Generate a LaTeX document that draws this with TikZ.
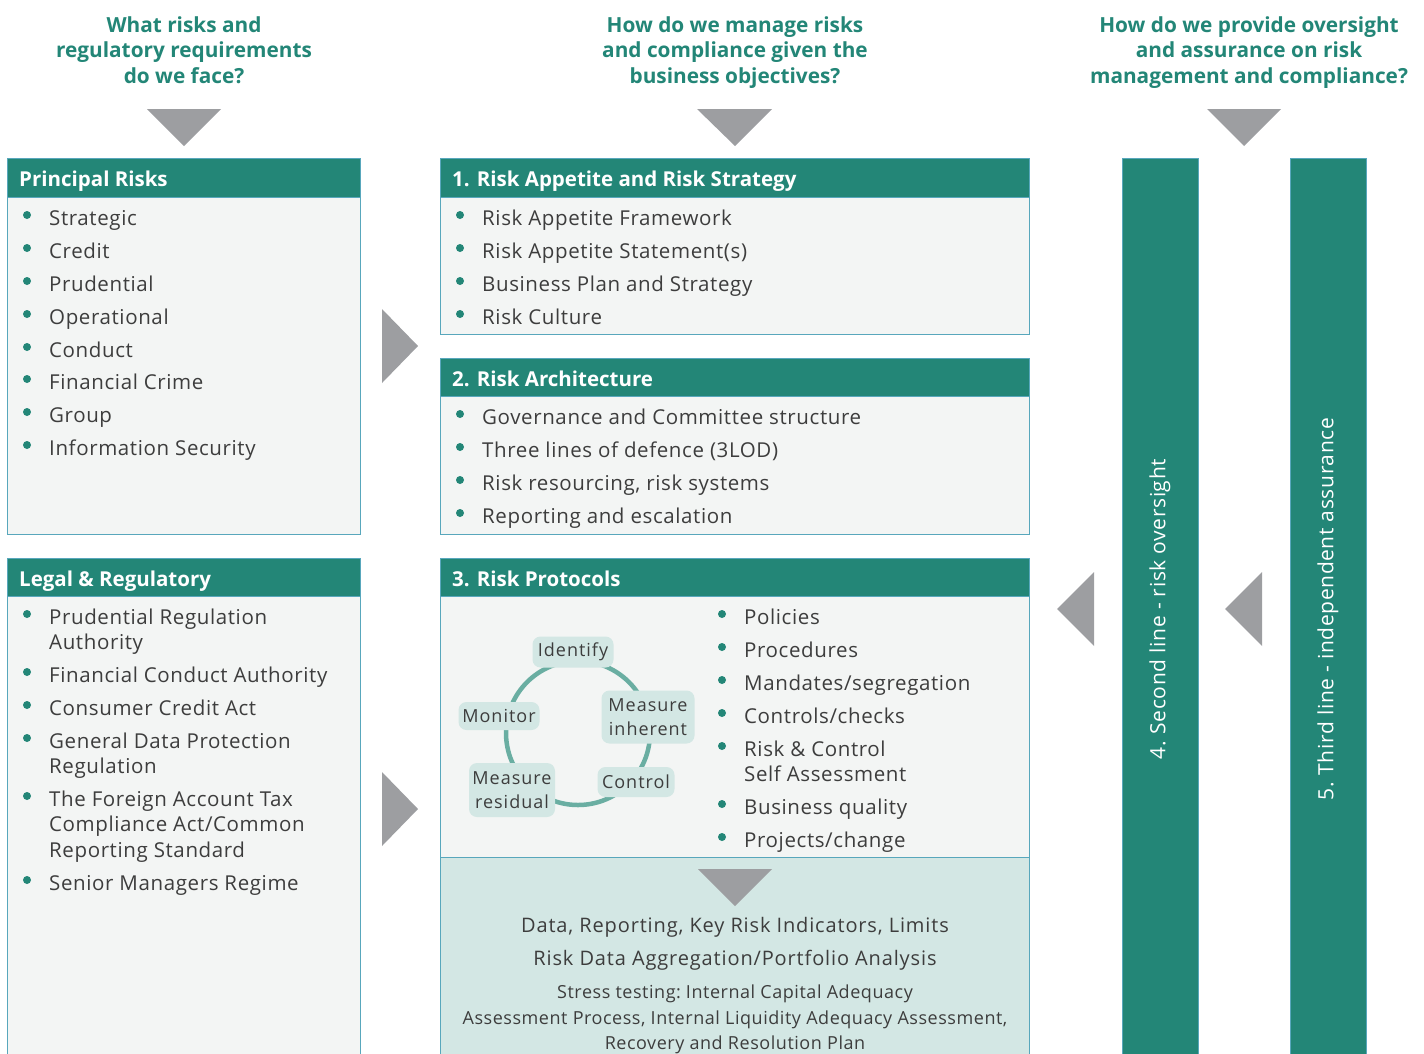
\documentclass[tikz,border=0pt]{standalone}
\usepackage{fontspec}
\setmainfont{Open Sans}
\newfontfamily\spacedA{Open Sans}[LetterSpace=3]
\newfontfamily\spacedB{Open Sans}[LetterSpace=4.3]
\newfontfamily\spacedC{Open Sans}[LetterSpace=5.5]
\definecolor{hdr}{HTML}{238677}
\definecolor{bodyfill}{HTML}{F3F5F4}
\definecolor{edge}{HTML}{58A7BC}
\definecolor{panel}{HTML}{D3E7E4}
\definecolor{arrowgray}{HTML}{9D9EA1}
\definecolor{ringc}{HTML}{6AAEA2}
\definecolor{txt}{HTML}{3D3D3D}
\newcommand\bul[4]{%
  \fill[hdr] (#2-22,#3-10) circle (4);
  \node[itemtext] (#1) at (#2,#3) {#4};}
\newcommand\cnt[4]{\node[itemtext] (#1) at (#2,#3) {#4};}
\begin{document}
\begin{tikzpicture}[x=1pt,y=-1pt,
  bodybox/.style={fill=bodyfill, draw=edge, line width=0.8pt, anchor=north west, inner sep=0},
  hdrbox/.style={fill=hdr, draw=edge, line width=0.8pt, anchor=north west, inner sep=0},
  hdrtext/.style={text=white, font=\bfseries\fontsize{20.5}{24}\selectfont, anchor=base west, inner sep=0},
  itemtext/.style={text=txt, font=\spacedA\fontsize{20.5}{25}\selectfont, anchor=base west, inner sep=0},
  question/.style={text=hdr, font=\bfseries\fontsize{20.8}{25.5}\selectfont, align=center, inner sep=0, anchor=north},
  tri/.style={fill=arrowgray},
  cyc/.style={fill=panel, rounded corners=8pt, text=txt, font=\spacedC\fontsize{18}{24}\selectfont, align=center, inner sep=0},
  bartext/.style={text=white, font=\spacedA\fontsize{21}{24}\selectfont, rotate=90, inner sep=0},
  bigline/.style={text=txt, font=\spacedB\fontsize{20}{24}\selectfont, anchor=base, inner sep=0},
  smallline/.style={text=txt, font=\spacedA\fontsize{18}{22}\selectfont, anchor=base, inner sep=0}]
\useasboundingbox (0,0) rectangle (1424,1053);

% questions
\node[question] (q1) at (184,16) {What risks and\\regulatory requirements\\do we face?};
\node[question] (q2) at (735,16) {How do we manage risks\\and compliance given the\\business objectives?};
\node[question] (q3) at (1249,16) {How do we provide oversight\\and assurance on risk\\management and compliance?};

% down triangles
\fill[tri] (147,109) -- (221,109) -- (184,146) -- cycle;
\fill[tri] (697,109) -- (772,109) -- (735,146) -- cycle;
\fill[tri] (1207,109) -- (1281,109) -- (1244,146) -- cycle;

% left column
\node[bodybox, minimum width=353pt, minimum height=337pt] (prb) at (7,197) {};
\node[hdrbox, minimum width=353pt, minimum height=39pt] (prh) at (7,158) {};
\node[hdrtext] (prt) at (19,186) {Principal Risks};
\bul{p1}{49}{225}{Strategic}
\bul{p2}{49}{258}{Credit}
\bul{p3}{49}{291}{Prudential}
\bul{p4}{49}{324}{Operational}
\bul{p5}{49}{357}{Conduct}
\bul{p6}{49}{389}{Financial Crime}
\bul{p7}{49}{422}{Group}
\bul{p8}{49}{455}{Information Security}

\node[bodybox, minimum width=353pt, minimum height=470pt] (lrb) at (7,596) {};
\node[hdrbox, minimum width=353pt, minimum height=38pt] (lrh) at (7,558) {};
\node[hdrtext] (lrt) at (19,586) {Legal \& Regulatory};
\bul{l1}{49}{624}{Prudential Regulation}
\cnt{l1b}{49}{649}{Authority}
\bul{l2}{49}{682}{Financial Conduct Authority}
\bul{l3}{49}{715}{Consumer Credit Act}
\bul{l4}{49}{748}{General Data Protection}
\cnt{l4b}{49}{773}{Regulation}
\bul{l5}{49}{806}{The Foreign Account Tax}
\cnt{l5b}{49}{831}{Compliance Act/Common}
\cnt{l5c}{49}{857}{Reporting Standard}
\bul{l6}{49}{890}{Senior Managers Regime}

% right-pointing triangles
\fill[tri] (382,309) -- (382,383) -- (418,346) -- cycle;
\fill[tri] (382,772) -- (382,846) -- (418,809) -- cycle;

% middle column box 1
\node[bodybox, minimum width=589pt, minimum height=137pt] (m1b) at (440,197) {};
\node[hdrbox, minimum width=589pt, minimum height=39pt] (m1h) at (440,158) {};
\node[hdrtext] (m1t) at (452,186) {1. Risk Appetite and Risk Strategy};
\bul{a1}{482}{225}{Risk Appetite Framework}
\bul{a2}{482}{258}{Risk Appetite Statement(s)}
\bul{a3}{482}{291}{Business Plan and Strategy}
\bul{a4}{482}{324}{Risk Culture}

% box 2
\node[bodybox, minimum width=589pt, minimum height=138pt] (m2b) at (440,396) {};
\node[hdrbox, minimum width=589pt, minimum height=38pt] (m2h) at (440,358) {};
\node[hdrtext] (m2t) at (452,386) {2. Risk Architecture};
\bul{b1}{482}{424}{Governance and Committee structure}
\bul{b2}{482}{457}{Three lines of defence (3LOD)}
\bul{b3}{482}{490}{Risk resourcing, risk systems}
\bul{b4}{482}{523}{Reporting and escalation}

% box 3
\node[bodybox, minimum width=589pt, minimum height=261pt] (m3b) at (440,596) {};
\node[hdrbox, minimum width=589pt, minimum height=38pt] (m3h) at (440,558) {};
\node[hdrtext] (m3t) at (452,586) {3. Risk Protocols};
\bul{c1}{744}{624}{Policies}
\bul{c2}{744}{657}{Procedures}
\bul{c3}{744}{690}{Mandates/segregation}
\bul{c4}{744}{723}{Controls/checks}
\bul{c5}{744}{756}{Risk \& Control}
\cnt{c5b}{744}{781}{Self Assessment}
\bul{c6}{744}{814}{Business quality}
\bul{c7}{744}{847}{Projects/change}

% cycle
\draw[ringc, line width=4.5pt] (578,733) circle (72);
\node[cyc, minimum width=81pt, minimum height=31pt] (cid) at (573,652) {Identify};
\node[cyc, minimum width=81pt, minimum height=28pt] (cmo) at (499,716) {Monitor};
\node[cyc, minimum width=93pt, minimum height=53pt] (cmi) at (648,717) {Measure\\inherent};
\node[cyc, minimum width=86pt, minimum height=54pt] (cmr) at (512,790) {Measure\\residual};
\node[cyc, minimum width=77pt, minimum height=30pt] (cco) at (636,782) {Control};

% bottom panel
\node[fill=panel, draw=edge, line width=0.8pt, anchor=north west, inner sep=0, minimum width=589pt, minimum height=210pt] (bp) at (440,857) {};
\fill[tri] (698,869) -- (772,869) -- (735,906) -- cycle;
\node[bigline] (d1) at (735,932) {Data, Reporting, Key Risk Indicators, Limits};
\node[bigline] (d2) at (735,965) {Risk Data Aggregation/Portfolio Analysis};
\node[smallline] (d3) at (735,998) {Stress testing:\kern-2pt{} Internal Capital Adequacy};
\node[smallline] (d4) at (735,1024) {Assessment Process, Internal Liquidity Adequacy Assessment,};
\node[smallline] (d5) at (735,1049) {Recovery and Resolution Plan};

% left-pointing triangles
\fill[tri] (1094,572) -- (1094,646) -- (1057,609) -- cycle;
\fill[tri] (1262,572) -- (1262,646) -- (1225,609) -- cycle;

% vertical bars
\node[hdrbox, minimum width=76pt, minimum height=910pt] (v1) at (1122,158) {};
\node[hdrbox, minimum width=76pt, minimum height=910pt] (v2) at (1290,158) {};
\node[bartext] (v1t) at (1160,609) {4.\kern-1.5pt{} Second line - risk oversight};
\node[bartext] (v2t) at (1328,609) {5.\kern-1.5pt{} Third line - independent assurance};
\end{tikzpicture}
\end{document}
